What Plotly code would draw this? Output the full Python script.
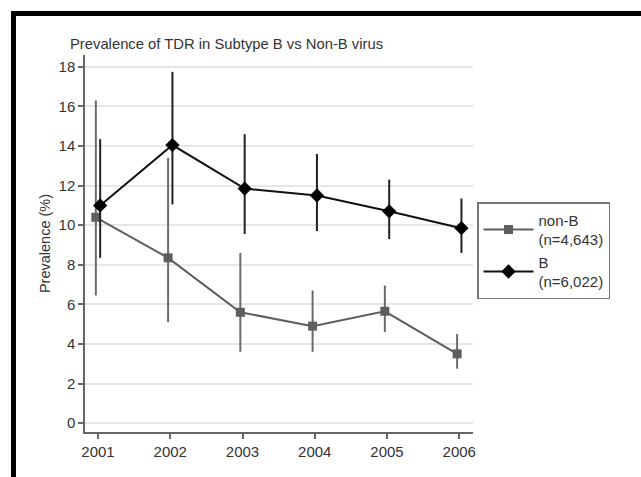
import plotly.graph_objects as go

years = [2001, 2002, 2003, 2004, 2005, 2006]

b_vals = [11.0, 14.05, 11.85, 11.5, 10.7, 9.85]
b_low = [8.35, 11.05, 9.55, 9.7, 9.3, 8.6]
b_high = [14.35, 17.75, 14.6, 13.6, 12.3, 11.35]

nb_vals = [10.4, 8.35, 5.6, 4.9, 5.65, 3.5]
nb_low = [6.45, 5.1, 3.6, 3.6, 4.6, 2.75]
nb_high = [16.3, 13.4, 8.6, 6.7, 6.95, 4.5]

title_text = "Prevalence of TDR in Subtype B vs Non-B virus"
y_title = "Prevalence (%)"
nb_name = "non-B<br>(n=4,643)"
b_name = "B<br>(n=6,022)"

W, H = 641, 477
L, R, T, B = 85, 473, 55, 432

fig = go.Figure()

nb_x = [y - 0.03 for y in years]
b_x = [y + 0.03 for y in years]

fig.add_trace(go.Scatter(
    x=nb_x, y=nb_vals, name=nb_name, mode="lines+markers",
    line=dict(color="#5e5e5e", width=2),
    marker=dict(symbol="square", size=9, color="#5e5e5e"),
    error_y=dict(type="data", symmetric=False,
                 array=[h - v for h, v in zip(nb_high, nb_vals)],
                 arrayminus=[v - l for l, v in zip(nb_low, nb_vals)],
                 color="#6a6a6a", thickness=2, width=0),
))
fig.add_trace(go.Scatter(
    x=b_x, y=b_vals, name=b_name, mode="lines+markers",
    line=dict(color="#111111", width=2),
    marker=dict(symbol="diamond", size=11, color="#000000"),
    error_y=dict(type="data", symmetric=False,
                 array=[h - v for h, v in zip(b_high, b_vals)],
                 arrayminus=[v - l for l, v in zip(b_low, b_vals)],
                 color="#222222", thickness=2, width=0),
))

def px_x(p):
    return (p - L) / (R - L)

def px_y(p):
    return (B - p) / (B - T)

shapes = [
    dict(type="rect", xref="paper", yref="paper",
         x0=px_x(11), x1=px_x(645), y0=px_y(11), y1=px_y(16),
         fillcolor="black", line=dict(width=0), layer="above"),
    dict(type="rect", xref="paper", yref="paper",
         x0=px_x(11), x1=px_x(16), y0=px_y(11), y1=px_y(480),
         fillcolor="black", line=dict(width=0), layer="above"),
]

fig.update_layout(
    width=W, height=H,
    margin=dict(l=L, r=W - R, t=T, b=H - B, pad=0),
    paper_bgcolor="white", plot_bgcolor="white",
    font=dict(family="Liberation Sans, Arial, sans-serif", size=14, color="#333333"),
    title=dict(text=title_text, x=(75 + 378) / 2 / W, xanchor="center",
               y=1 - 44 / H, yanchor="middle",
               font=dict(size=14.8, color="#333333")),
    showlegend=True,
    legend=dict(x=px_x(477), y=px_y(202), xanchor="left", yanchor="top",
                bordercolor="#777777", borderwidth=1.5, bgcolor="white",
                font=dict(size=15, color="#333333"), tracegroupgap=2,
                itemwidth=50),
    shapes=shapes,
)

fig.update_xaxes(
    range=[2000.82, 2006.19], tickvals=years, ticktext=[str(y) for y in years],
    showgrid=False, zeroline=False, showline=True, linecolor="#666666", linewidth=1.5,
    ticks="outside", ticklen=5, tickcolor="#666666", tickwidth=1.5,
    tickfont=dict(size=15, color="#333333"),
)
fig.update_yaxes(
    range=[-0.45, 18.6], tickvals=[0, 2, 4, 6, 8, 10, 12, 14, 16, 18],
    showgrid=True, gridcolor="#e6e6e6", gridwidth=1.5, zeroline=False,
    showline=True, linecolor="#666666", linewidth=1.5,
    ticks="outside", ticklen=5, tickcolor="#666666", tickwidth=1.5,
    tickfont=dict(size=15, color="#333333"),
    title=dict(text=y_title, font=dict(size=14.5, color="#333333"), standoff=4),
)

fig.write_html("out.html", config={"displayModeBar": False},
               post_script="document.body.style.margin='0';")
